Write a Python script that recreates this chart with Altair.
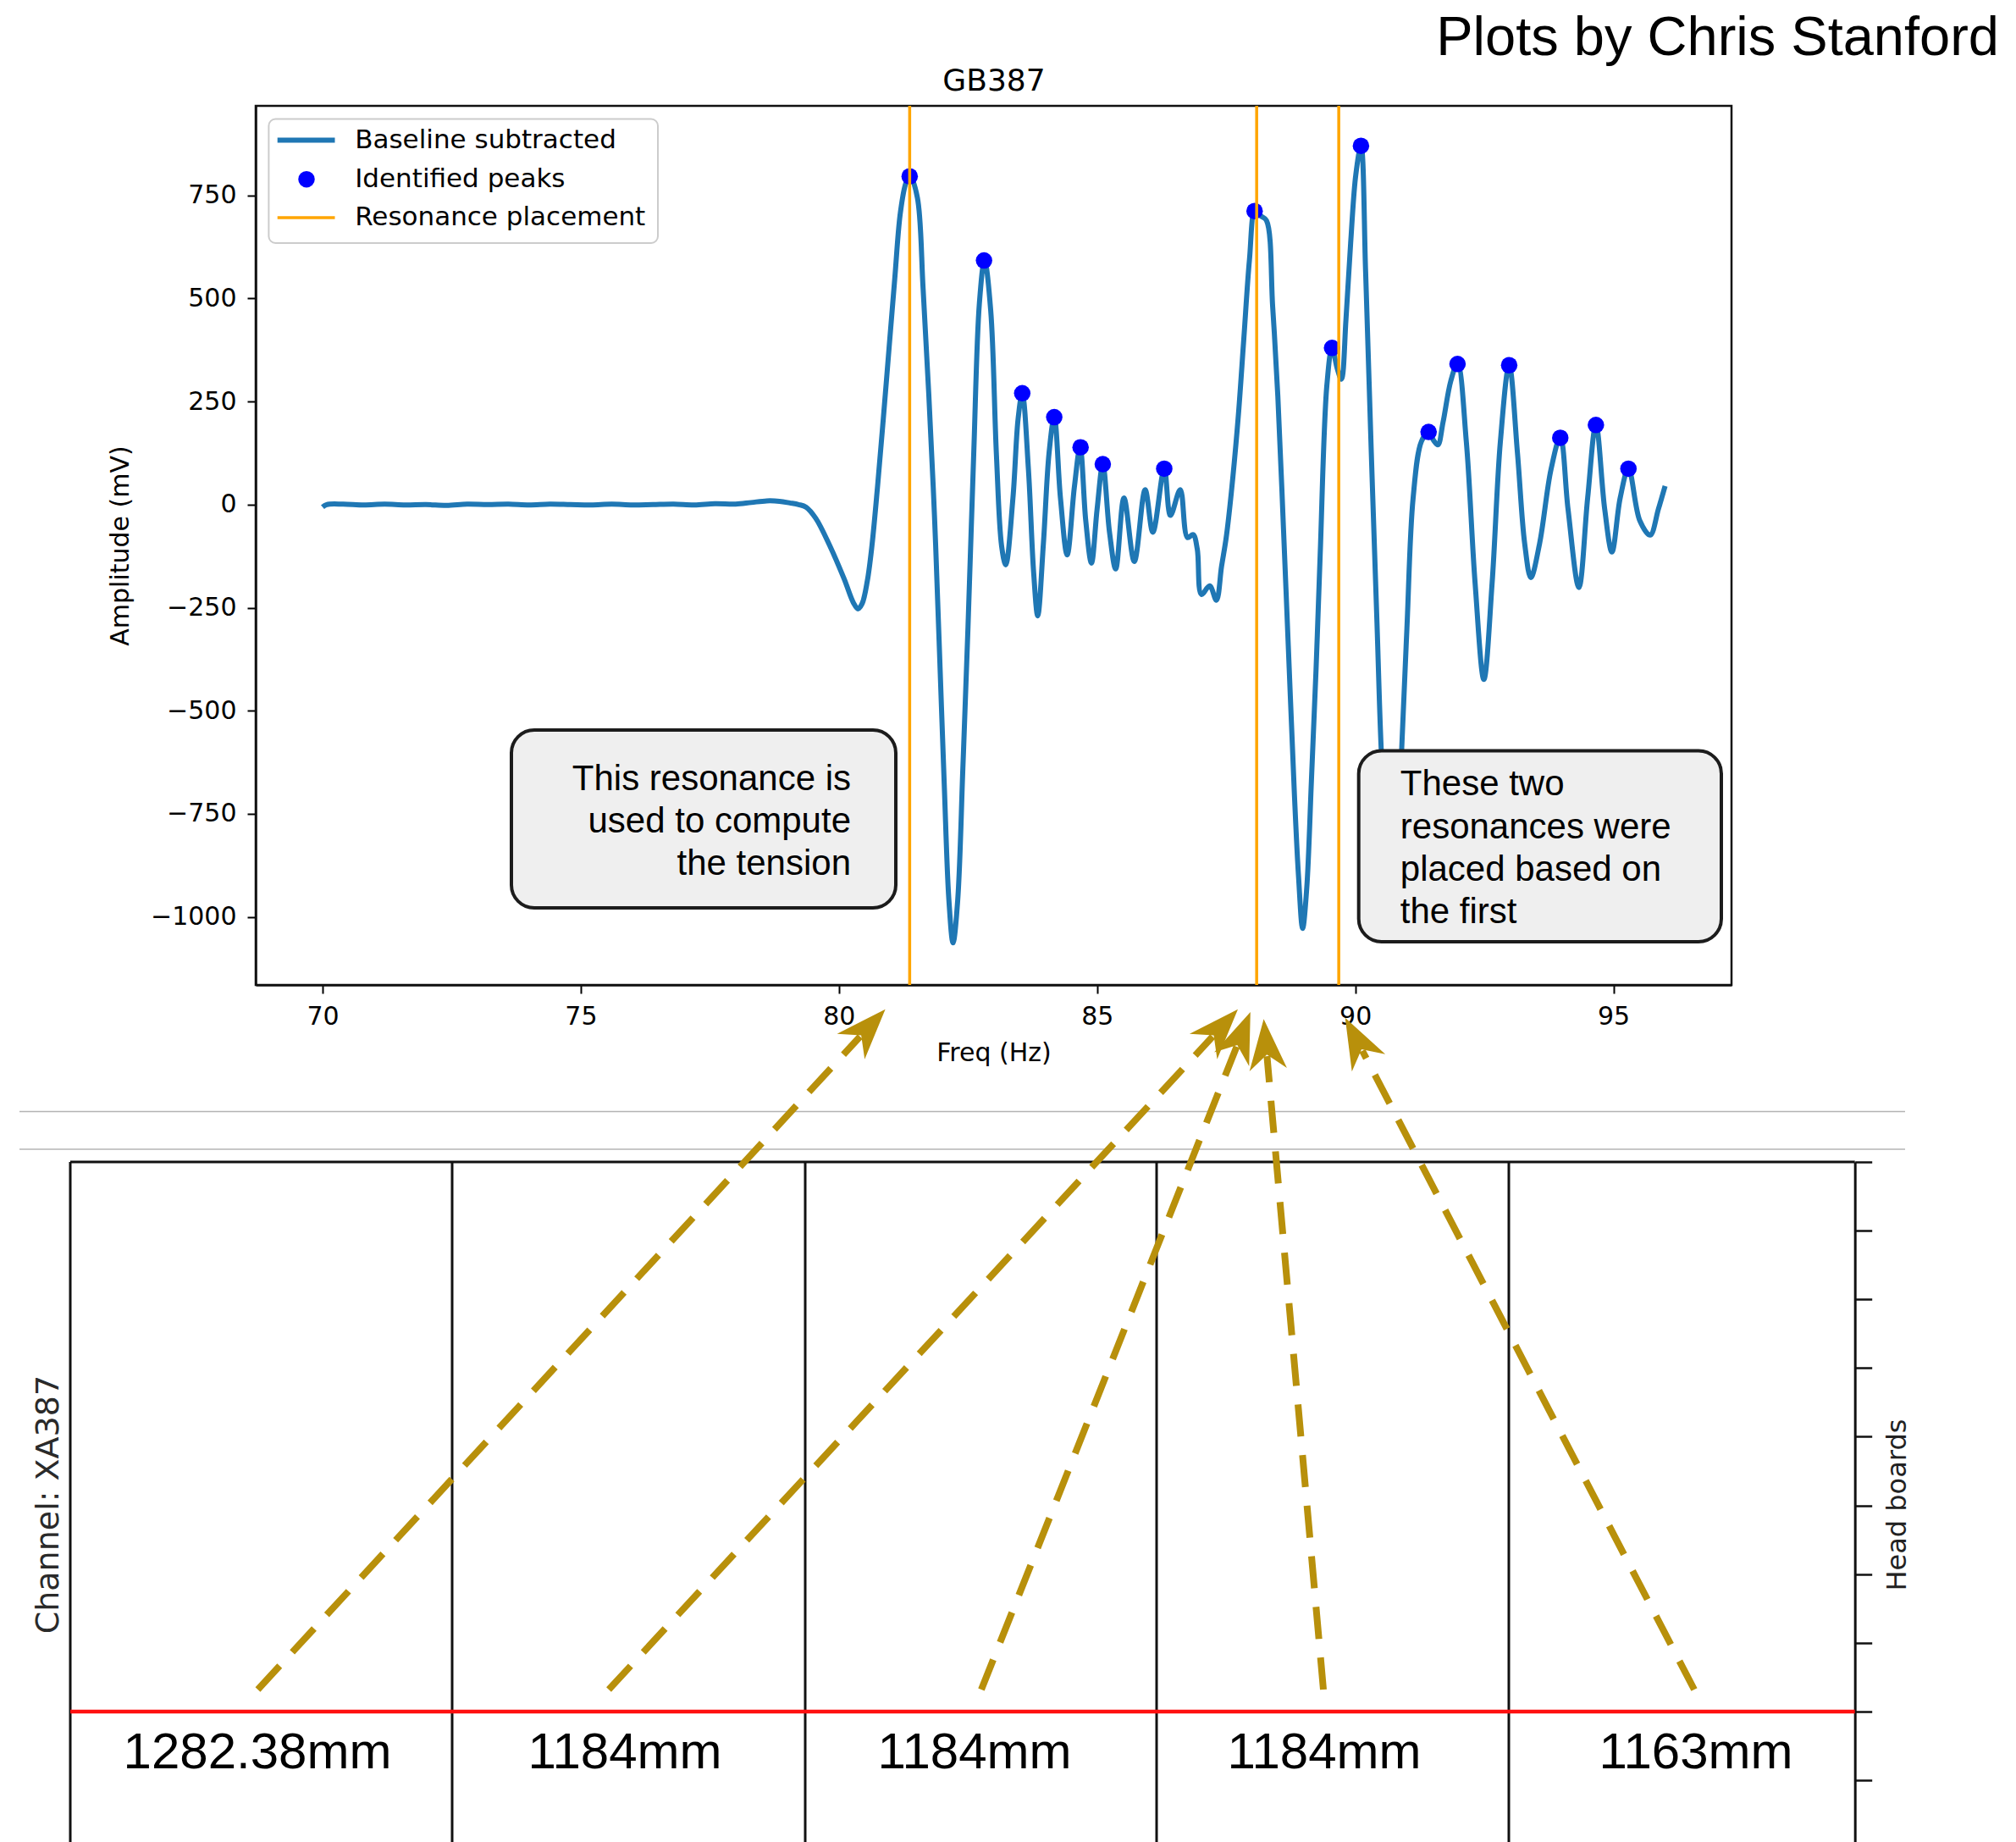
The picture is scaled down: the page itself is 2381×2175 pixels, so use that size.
import math
import altair as alt
import pandas as pd

# ---------------- data ----------------
FREQ = [70.00, 70.08, 70.40, 70.80, 71.20, 71.60, 72.00, 72.40, 72.80, 73.20,
        73.60, 74.00, 74.40, 74.80, 75.20, 75.60, 76.00, 76.40, 76.80, 77.20,
        77.60, 78.00, 78.30, 78.60, 78.85, 79.05, 79.22, 79.36, 79.55, 79.82,
        80.10, 80.28, 80.37, 80.45, 80.55, 80.64, 80.75, 80.86, 80.97, 81.08,
        81.19, 81.30, 81.38, 81.52, 81.63, 81.74, 81.85, 81.94, 82.04, 82.13,
        82.21, 82.30, 82.40, 82.50, 82.61, 82.72, 82.82, 82.94, 83.05, 83.15,
        83.23, 83.37, 83.47, 83.55, 83.67, 83.77, 83.85, 83.96, 84.07, 84.17,
        84.29, 84.42, 84.56, 84.67, 84.78, 84.89, 85.00, 85.11, 85.24, 85.36,
        85.52, 85.72, 85.93, 86.08, 86.30, 86.42, 86.61, 86.75, 86.86, 86.94,
        87.02, 87.18, 87.31, 87.41, 87.50, 87.60, 87.73, 87.84, 87.95, 88.06,
        88.17, 88.28, 88.40, 88.50, 88.61, 88.72, 88.82, 88.90, 88.98, 89.06,
        89.15, 89.24, 89.32, 89.45, 89.55, 89.65, 89.73, 89.82, 89.91, 90.01,
        90.11, 90.20, 90.31, 90.42, 90.50, 90.60, 90.72, 90.82, 90.90, 91.00,
        91.12, 91.28, 91.42, 91.52, 91.60, 91.70, 91.85, 91.98, 92.15, 92.32,
        92.49, 92.65, 92.81, 92.98, 93.14, 93.28, 93.40, 93.57, 93.79, 93.97,
        94.12, 94.33, 94.50, 94.66, 94.83, 94.97, 95.13, 95.29, 95.51, 95.71,
        95.87, 96.00]
AMP = [-6, 0, 1, -1, 1, -1, 0, -2, 1, 0,
       1, -1, 1, 0, -1, 1, -1, 0, 1, -1,
       2, 1, 5, 9, 8, 4, 0, -6, -33, -99,
       -180, -238, -253, -240, -185, -99, 47, 209, 378, 546,
       708, 781, 796, 744, 524, 268, -26, -330, -680, -960,
       -1063, -960, -640, -296, 121, 488, 592, 470, 121, -100,
       -146, 16, 208, 270, 85, -163, -270, -94, 126, 212,
       16, -122, 43, 139, -39, -142, -11, 98, -67, -156,
       16, -138, 36, -67, 87, -26, 36, -80, -73, -108,
       -218, -197, -232, -150, -80, 30, 208, 400, 593, 716,
       700, 689, 480, 263, -60, -397, -700, -900, -1028, -930,
       -671, -400, -122, 290, 380, 330, 304, 450, 634, 800,
       870, 565, 126, -286, -588, -820, -900, -820, -589, -300,
       16, 153, 176, 155, 145, 200, 300, 342, 153, -190,
       -424, -190, 153, 338, 126, -94, -177, -94, 85, 163,
       -11, -201, 16, 194, -11, -115, 16, 87, -39, -74,
       -11, 45]

PEAK_FREQ = [81.37, 82.81, 83.55, 84.17, 84.68, 85.11, 86.30, 88.05,
             89.55, 90.11, 91.42, 91.98, 92.98, 93.97, 94.66, 95.29]
PEAK_AMP = [796, 592, 270, 212, 139, 98, 87, 712,
            380, 870, 176, 341, 338, 162, 193, 87]

RESONANCES = [81.37, 88.09, 89.68]

X_TICKS = [70, 75, 80, 85, 90, 95]
Y_TICKS = [-1000, -750, -500, -250, 0, 250, 500, 750]

LEGEND_LABELS = ["Baseline subtracted", "Identified peaks", "Resonance placement"]
NOTE_LEFT = ["This resonance is", "used to compute", "the tension"]
NOTE_RIGHT = ["These two", "resonances were", "placed based on", "the first"]
LENGTH_LABELS = ["1282.38mm", "1184mm", "1184mm", "1184mm", "1163mm"]
HEADBOARD_TICKS = [-1, 0, 1, 2, 3, 4, 5, 6, 7, 8]

# ---------------- layout (canvas pixels) ----------------
CANVAS_W, CANVAS_H = 2381, 2175
PL, PT, PR, PB = 302, 125, 2045, 1163          # top plot area
VW, VH = PR - PL, PB - PT
FX0, FX1 = 68.705, 97.286                       # freq domain
FY0, FY1 = -1165.0, 967.0                       # amplitude domain


def fx(px):
    return FX0 + (px - PL) * (FX1 - FX0) / VW


def fy(py):
    return FY1 - (py - PT) * (FY1 - FY0) / VH


# diagram coordinate system (one unit = spacing of head-board ticks)
U = 81.14
DX0, DY0 = 83.0, 2021.0
GX_DOM = [0.0, 26.0]
GY_DOM = [-1.9, 8.0]


def gx(px):
    return (px - DX0) / U


def gy(py):
    return (DY0 - py) / U


RIGHT_AXIS_PX = 2190.7
DIVIDERS_PX = [83, 534, 951, 1366, 1782]
LABEL_X_PX = [304, 738, 1151, 1564, 2003]

ARROW_FROM = [(304.5, 1995), (719, 1995), (1159, 1995), (1563, 1995), (2001, 1995)]
ARROW_TO = [(1045.6, 1191.7), (1462, 1191.7), (1476.8, 1195), (1492.5, 1203.3), (1588.7, 1201.7)]

GOLD = "#b8900b"
BLUE = "#1f77b4"
HEAD_R = 30.0
HEAD_PATH = "M0,0L0.74,2L0,1.4L-0.74,2Z"
SHAFT_GAP = 44.0

# ---------------- top chart (freq / amplitude) ----------------
X_SCALE = alt.Scale(domain=[FX0, FX1], nice=False, zero=False)
Y_SCALE = alt.Scale(domain=[FY0, FY1], nice=False, zero=False)

X_AXIS = alt.Axis(values=X_TICKS, format="d", grid=False, title="Freq (Hz)",
                  labelFont="DejaVu Sans", labelFontSize=30, labelColor="#000",
                  labelPadding=12, labelFlush=False, labelOverlap=False,
                  tickColor="#000", tickSize=10, tickWidth=2,
                  domainColor="#111", domainWidth=2.5,
                  titleFont="DejaVu Sans", titleFontSize=30, titleFontWeight="normal",
                  titleColor="#000", titleBaseline="alphabetic", titleY=89)
Y_AXIS = alt.Axis(values=Y_TICKS, format="d", grid=False, title="Amplitude (mV)",
                  labelExpr="replace(datum.label, '-', '\u2212')",
                  labelFont="DejaVu Sans", labelFontSize=30, labelColor="#000",
                  labelPadding=13, labelFlush=False, labelOverlap=False,
                  tickColor="#000", tickSize=10, tickWidth=2,
                  domainColor="#111", domainWidth=2.5,
                  titleFont="DejaVu Sans", titleFontSize=30, titleFontWeight="normal",
                  titleColor="#000", titleAngle=270, titleBaseline="alphabetic",
                  titleAlign="center", titleX=-151, titleY=VH / 2)


def TX(f):
    return alt.X(f, type="quantitative", scale=X_SCALE, axis=X_AXIS)


def TY(f):
    return alt.Y(f, type="quantitative", scale=Y_SCALE, axis=Y_AXIS)


curve_df = pd.DataFrame({"freq": FREQ, "amp": AMP})
peaks_df = pd.DataFrame({"freq": PEAK_FREQ, "amp": PEAK_AMP})
res_df = pd.DataFrame({"freq": RESONANCES})

curve = alt.Chart(curve_df).mark_line(color=BLUE, strokeWidth=6, interpolate="catmull-rom").encode(
    x=TX("freq"), y=TY("amp"))
peaks = alt.Chart(peaks_df).mark_circle(color="#0000ff", size=380, opacity=1).encode(
    x=TX("freq"), y=TY("amp"))
rules = alt.Chart(res_df).mark_rule(color="#ffa500", strokeWidth=3.5).encode(x=TX("freq"))

# legend (matplotlib style)
leg_rows = [165.5, 211.7, 257.0]
leg_box = alt.Chart(pd.DataFrame({"a": [fx(317.4)], "b": [fx(777)], "c": [fy(140.5)], "d": [fy(287)]})).mark_rect(
    fill="white", fillOpacity=0.8, stroke="#cccccc", strokeWidth=2, cornerRadius=8).encode(
    x=TX("a"), x2=alt.X2("b"), y=TY("c"), y2=alt.Y2("d"))
leg_line_blue = alt.Chart(pd.DataFrame({"a": [fx(327.7)], "b": [fx(395.5)], "c": [fy(leg_rows[0])]})).mark_rule(
    color=BLUE, strokeWidth=6).encode(x=TX("a"), x2=alt.X2("b"), y=TY("c"))
leg_line_orange = alt.Chart(pd.DataFrame({"a": [fx(327.7)], "b": [fx(395.5)], "c": [fy(leg_rows[2])]})).mark_rule(
    color="#ffa500", strokeWidth=3.5).encode(x=TX("a"), x2=alt.X2("b"), y=TY("c"))
leg_dot = alt.Chart(pd.DataFrame({"a": [fx(362)], "c": [fy(leg_rows[1])]})).mark_circle(
    color="#0000ff", size=380, opacity=1).encode(x=TX("a"), y=TY("c"))
leg_text = alt.Chart(pd.DataFrame({"a": [fx(419.2)] * 3, "c": [fy(r) for r in leg_rows],
                                   "t": LEGEND_LABELS})).mark_text(
    align="left", baseline="middle", font="DejaVu Sans", fontSize=31, color="#000").encode(
    x=TX("a"), y=TY("c"), text="t:N")

# callout boxes
box_df = pd.DataFrame({"a": [fx(604), fx(1604.7)], "b": [fx(1058), fx(2033)],
                       "c": [fy(862), fy(886.4)], "d": [fy(1072), fy(1112)]})
boxes = alt.Chart(box_df).mark_rect(fill="#efefef", stroke="#1c1c1c", strokeWidth=4,
                                    cornerRadius=27).encode(
    x=TX("a"), x2=alt.X2("b"), y=TY("c"), y2=alt.Y2("d"))
note_l = alt.Chart(pd.DataFrame({"a": [fx(1005)] * 3, "c": [fy(v) for v in [933, 983, 1033]],
                                 "t": NOTE_LEFT})).mark_text(
    align="right", baseline="alphabetic", font="Liberation Sans", fontSize=42, color="#000").encode(
    x=TX("a"), y=TY("c"), text="t:N")
note_r = alt.Chart(pd.DataFrame({"a": [fx(1653.8)] * 4, "c": [fy(v) for v in [939, 990, 1040, 1090]],
                                 "t": NOTE_RIGHT})).mark_text(
    align="left", baseline="alphabetic", font="Liberation Sans", fontSize=42, color="#000").encode(
    x=TX("a"), y=TY("c"), text="t:N")

title_gb = alt.Chart(pd.DataFrame({"a": [fx(1174)], "c": [fy(107)], "t": ["GB387"]})).mark_text(
    align="center", baseline="alphabetic", font="DejaVu Sans", fontSize=36, color="#000").encode(
    x=TX("a"), y=TY("c"), text="t:N")
title_author = alt.Chart(pd.DataFrame({"a": [fx(2361)], "c": [fy(65)], "t": ["Plots by Chris Stanford"]})).mark_text(
    align="right", baseline="alphabetic", font="Liberation Sans", fontSize=65, color="#000").encode(
    x=TX("a"), y=TY("c"), text="t:N")

top = alt.layer(curve, peaks, rules, leg_box, leg_line_blue, leg_line_orange, leg_dot, leg_text,
                boxes, note_l, note_r, title_gb, title_author)

# ---------------- bottom diagram ----------------
GX_SCALE = alt.Scale(domain=GX_DOM, nice=False, zero=False,
                     range=[DX0 + GX_DOM[0] * U - PL, DX0 + GX_DOM[1] * U - PL])
GY_SCALE = alt.Scale(domain=GY_DOM, nice=False, zero=False,
                     range=[DY0 - GY_DOM[0] * U - PT, DY0 - GY_DOM[1] * U - PT])
GY_AXIS = alt.Axis(orient="right", offset=RIGHT_AXIS_PX - PR, values=HEADBOARD_TICKS,
                   labels=False, grid=False, tickSize=20, tickWidth=2.5, tickColor="#111",
                   domainColor="#111", domainWidth=3, title="Head boards",
                   titleFont="DejaVu Sans", titleFontSize=32, titleFontWeight="normal",
                   titleColor="#222", titleAngle=270, titleBaseline="alphabetic",
                   titleAlign="center", titleX=60, titleY=1776.6 - PT)


def DXe(f):
    return alt.X(f, type="quantitative", scale=GX_SCALE, axis=None)


def DYe(f):
    return alt.Y(f, type="quantitative", scale=GY_SCALE, axis=GY_AXIS)


gray = alt.Chart(pd.DataFrame({"a": [gx(23)] * 2, "b": [gx(2250)] * 2,
                               "c": [gy(1312.5), gy(1357)]})).mark_rule(
    color="#b4b4b4", strokeWidth=1.5).encode(x=DXe("a"), x2=alt.X2("b"), y=DYe("c"))
frame_top = alt.Chart(pd.DataFrame({"a": [0.0], "b": [gx(RIGHT_AXIS_PX)], "c": [GY_DOM[1]]})).mark_rule(
    color="#111", strokeWidth=3).encode(x=DXe("a"), x2=alt.X2("b"), y=DYe("c"))
dividers = alt.Chart(pd.DataFrame({"a": [gx(p) for p in DIVIDERS_PX],
                                   "c": [GY_DOM[0]] * 5, "d": [GY_DOM[1]] * 5})).mark_rule(
    color="#111", strokeWidth=3).encode(x=DXe("a"), y=DYe("c"), y2=alt.Y2("d"))
red = alt.Chart(pd.DataFrame({"a": [0.0], "b": [gx(RIGHT_AXIS_PX)], "c": [0.0]})).mark_rule(
    color="#ff1010", strokeWidth=4.5).encode(x=DXe("a"), x2=alt.X2("b"), y=DYe("c"))
lengths = alt.Chart(pd.DataFrame({"a": [gx(p) for p in LABEL_X_PX], "c": [gy(2088)] * 5,
                                  "t": LENGTH_LABELS})).mark_text(
    align="center", baseline="alphabetic", font="Liberation Sans", fontSize=60, color="#000").encode(
    x=DXe("a"), y=DYe("c"), text="t:N")
channel = alt.Chart(pd.DataFrame({"a": [gx(68.5)], "c": [gy(1776.6)], "t": ["Channel: XA387"]})).mark_text(
    align="center", baseline="alphabetic", angle=270, font="DejaVu Sans", fontSize=38, color="#2a2a2a").encode(
    x=DXe("a"), y=DYe("c"), text="t:N")

arrow_rows = []
for (sx, sy), (tx_, ty_) in zip(ARROW_FROM, ARROW_TO):
    dxp, dyp = tx_ - sx, ty_ - sy
    L = math.hypot(dxp, dyp)
    ux, uy = dxp / L, dyp / L
    ex, ey = tx_ - ux * SHAFT_GAP, ty_ - uy * SHAFT_GAP
    ang = math.degrees(math.atan2(dxp, -dyp)) % 360
    arrow_rows.append({"a": gx(sx), "c": gy(sy), "b": gx(ex), "d": gy(ey),
                       "tx": gx(tx_), "ty": gy(ty_), "ang": ang})
arrow_df = pd.DataFrame(arrow_rows)

shafts = alt.Chart(arrow_df).mark_rule(color=GOLD, strokeWidth=8, strokeDash=[38, 22],
                                       strokeCap="butt").encode(
    x=DXe("a"), y=DYe("c"), x2=alt.X2("b"), y2=alt.Y2("d"))
heads = alt.Chart(arrow_df).mark_point(shape=HEAD_PATH, filled=True, color=GOLD, opacity=1,
                                       strokeWidth=0, size=(2 * HEAD_R) ** 2).encode(
    x=DXe("tx"), y=DYe("ty"), angle=alt.Angle("ang:Q", scale=None))

diag = alt.layer(gray, frame_top, dividers, red, lengths, channel, shafts, heads)

chart = alt.layer(top, diag).resolve_scale(x="independent", y="independent").properties(
    width=VW, height=VH,
    padding={"left": PL, "top": PT, "right": CANVAS_W - PR, "bottom": CANVAS_H - PB},
    autosize=alt.AutoSizeParams(type="none"),
    background="white",
).configure_view(stroke="#111111", strokeWidth=2.5)

chart.save("out.html", embed_options={"renderer": "svg", "actions": False})
